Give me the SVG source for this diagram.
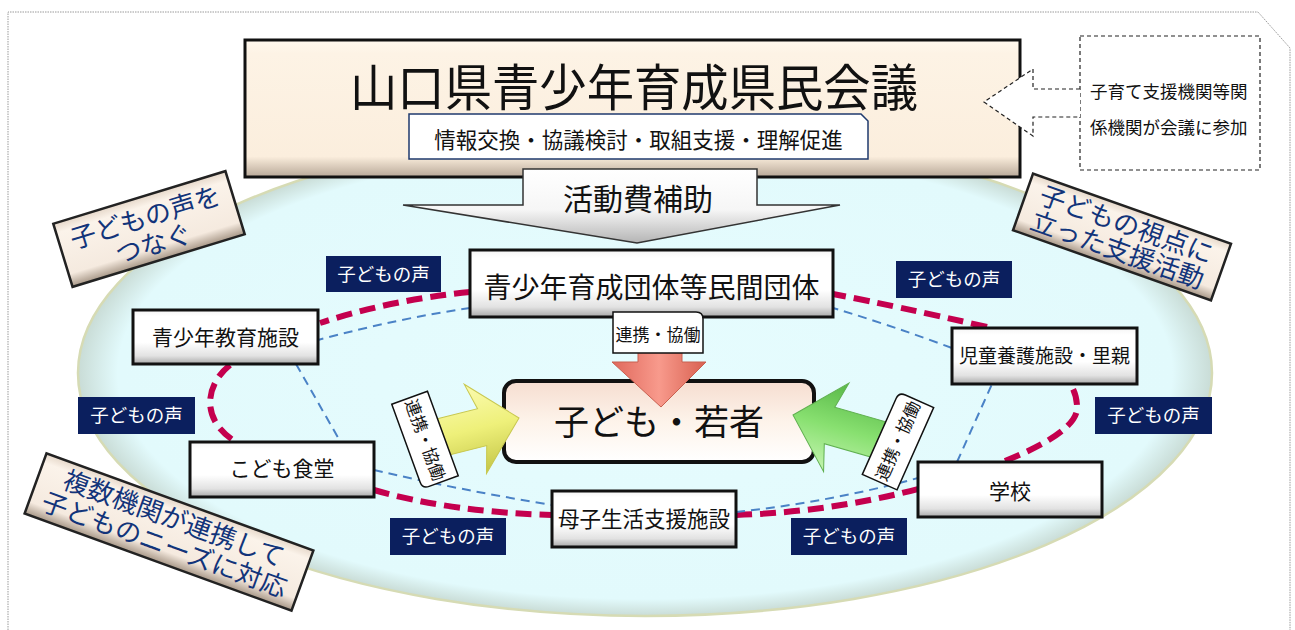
<svg xmlns="http://www.w3.org/2000/svg" width="1295" height="630" viewBox="0 0 1295 630">
<defs>
<radialGradient id="eg" cx="0.5" cy="0.5" r="0.5">
<stop offset="0" stop-color="#e6fcfe"/>
<stop offset="0.93" stop-color="#e2fafc"/>
<stop offset="1" stop-color="#c9dcd6"/>
</radialGradient>
<linearGradient id="ng" x1="0" y1="0" x2="0" y2="1">
<stop offset="0" stop-color="#f4f4f4"/>
<stop offset="0.12" stop-color="#ffffff"/>
<stop offset="0.6" stop-color="#ffffff"/>
<stop offset="0.85" stop-color="#e2e2e2"/>
<stop offset="1" stop-color="#a8a8a8"/>
</linearGradient>
<linearGradient id="tg" x1="0" y1="0" x2="0" y2="1">
<stop offset="0" stop-color="#fff8ee"/>
<stop offset="0.1" stop-color="#fdf3e5"/>
<stop offset="0.85" stop-color="#fbeedd"/>
<stop offset="1" stop-color="#b8a898"/>
</linearGradient>
<linearGradient id="cg" x1="0" y1="0" x2="0" y2="1">
<stop offset="0" stop-color="#e6d8ca"/>
<stop offset="0.15" stop-color="#fbf3ea"/>
<stop offset="0.8" stop-color="#f5eadf"/>
<stop offset="1" stop-color="#a89888"/>
</linearGradient>
<linearGradient id="yg" x1="0" y1="0" x2="0" y2="1">
<stop offset="0" stop-color="#fbfbb0"/>
<stop offset="0.5" stop-color="#eef07a"/>
<stop offset="1" stop-color="#c4c648"/>
</linearGradient>
<linearGradient id="gg" x1="0" y1="0" x2="0" y2="1">
<stop offset="0" stop-color="#c4f4b0"/>
<stop offset="0.5" stop-color="#88e070"/>
<stop offset="1" stop-color="#58b848"/>
</linearGradient>
<linearGradient id="rg" x1="0" y1="0" x2="1" y2="0">
<stop offset="0" stop-color="#e0685c"/>
<stop offset="0.5" stop-color="#f89a8c"/>
<stop offset="1" stop-color="#d86050"/>
</linearGradient>
<linearGradient id="cy" x1="0" y1="0" x2="0" y2="1">
<stop offset="0" stop-color="#f6ddd0"/>
<stop offset="0.5" stop-color="#fdf3ea"/>
<stop offset="1" stop-color="#ffffff"/>
</linearGradient>
<linearGradient id="ag" x1="0" y1="0" x2="0" y2="1">
<stop offset="0" stop-color="#ffffff"/>
<stop offset="0.55" stop-color="#f6f6f6"/>
<stop offset="1" stop-color="#b4b4b4"/>
</linearGradient>
</defs>
<style>
text{font-family:"Noto Sans CJK JP","Noto Sans CJK SC",sans-serif}
.c{text-anchor:middle}
.node rect{fill:url(#ng);stroke:#111;stroke-width:3}
.node text{fill:#111;text-anchor:middle}
.voice rect{fill:#0b1f5e}
.voice text{fill:#fff;font-size:18.5px;text-anchor:middle}
.red{fill:none;stroke:#c4004e;stroke-width:6;stroke-dasharray:16 8}
.blue{fill:none;stroke:#4a82c6;stroke-width:2;stroke-dasharray:9 6}
.callout rect{fill:url(#cg);stroke:#222;stroke-width:2.5}
.callout text{fill:#12347a;font-size:26px;text-anchor:middle}
.tag path{fill:#fff;stroke:#111;stroke-width:1.5}
.tag text{fill:#111;font-size:17px;text-anchor:middle}
</style>
<rect width="1295" height="630" fill="#fff"/>
<polyline points="8,630 8,12 1258,12 1290,48 1290,630" fill="none" stroke="#9a9a9a" stroke-width="1" stroke-dasharray="1.5 1"/>
<ellipse cx="645" cy="373" rx="567" ry="243" fill="url(#eg)" stroke="#d6dbb4" stroke-width="2.5"/>
<g id="connectors">
<path class="red" d="M470,292 Q390,300 320,323"/>
<path class="red" d="M230,365 C205,385 200,420 236,442"/>
<path class="red" d="M374,490 Q450,512 552,515"/>
<path class="red" d="M736,515 Q830,512 918,489"/>
<path class="red" d="M1005,461 C1045,445 1080,425 1077,405 Q1076,392 1070,384"/>
<path class="red" d="M987,327 Q896,306 833,294"/>
<path class="blue" d="M470,308 Q400,318 318,340"/>
<path class="blue" d="M296,364 L340,441"/>
<path class="blue" d="M374,470 Q460,490 552,505"/>
<path class="blue" d="M736,512 Q830,502 918,478"/>
<path class="blue" d="M957,462 L992,384"/>
<path class="blue" d="M952,348 Q890,325 833,308"/>
</g>
<g id="n-minkan" class="node"><rect x="470" y="250" width="363" height="67"/><text x="651.5" y="298" font-size="28">青少年育成団体等民間団体</text></g>
<g id="n-kyoiku" class="node"><rect x="133" y="310" width="185" height="54"/><text x="225.5" y="345" font-size="21">青少年教育施設</text></g>
<g id="n-shokudo" class="node"><rect x="190" y="442" width="184" height="55"/><text x="282" y="476" font-size="21">こども食堂</text></g>
<g id="n-jido" class="node"><rect x="952" y="328" width="185" height="56"/><text x="1044.5" y="363" font-size="19">児童養護施設・里親</text></g>
<g id="n-gakko" class="node"><rect x="918" y="462" width="184" height="55"/><text x="1010" y="499" font-size="21">学校</text></g>
<g id="n-boshi" class="node"><rect x="552" y="491" width="184" height="56"/><text x="644" y="527" font-size="21.5">母子生活支援施設</text></g>
<g id="n-kodomo"><rect x="504" y="381" width="310" height="81" rx="12" fill="url(#cy)" stroke="#111" stroke-width="4"/><text class="c" x="659" y="435" font-size="35" fill="#111">子ども・若者</text></g>
<g id="arrows">
<path d="M638,340 H682 V362 H706 L661,407 L612,362 H638 Z" fill="url(#rg)" stroke="#c86050" stroke-width="1"/>
<g transform="translate(519,418) rotate(-14)"><path d="M0,0 L-45,46 L-38,19 H-110 V-19 H-38 L-45,-46 Z" fill="url(#yg)" stroke="#c8c850" stroke-width="1"/></g>
<g transform="translate(793,415) rotate(196)"><path d="M0,0 L-45,46 L-38,19 H-110 V-19 H-38 L-45,-46 Z" fill="url(#gg)" stroke="#60b050" stroke-width="1"/></g>
</g>
<g id="tag-top" class="tag"><path d="M613,312 H696 Q703,312 703,319 V353 H613 Z"/><text x="658" y="341">連携・協働</text></g>
<g id="tag-left" class="tag" transform="translate(425,440) rotate(70)"><path d="M-45,-19 H45 V12 Q45,19 38,19 H-45 Z"/><text x="0" y="6">連携・協働</text></g>
<g id="tag-right" class="tag" transform="translate(898,441) rotate(-66)"><path d="M-45,-19 H38 Q45,-19 45,-12 V19 H-45 Z"/><text x="0" y="6">連携・協働</text></g>
<g id="v1" class="voice"><rect x="326" y="256" width="115" height="36"/><text x="383.5" y="281">子どもの声</text></g>
<g id="v2" class="voice"><rect x="896" y="261" width="116" height="37"/><text x="954" y="286">子どもの声</text></g>
<g id="v3" class="voice"><rect x="78" y="397" width="117" height="37"/><text x="136.5" y="422">子どもの声</text></g>
<g id="v4" class="voice"><rect x="1095" y="397" width="117" height="37"/><text x="1153.5" y="422">子どもの声</text></g>
<g id="v5" class="voice"><rect x="390" y="518" width="116" height="37"/><text x="448" y="543">子どもの声</text></g>
<g id="v6" class="voice"><rect x="791" y="518" width="116" height="37"/><text x="849" y="543">子どもの声</text></g>
<g id="callout1" class="callout" transform="translate(149,229) rotate(-17)"><rect x="-90" y="-33" width="180" height="66"/><text x="0" y="-3">子どもの声を</text><text x="0" y="25">つなぐ</text></g>
<g id="callout2" class="callout" transform="translate(1122,237) rotate(19.5)"><rect x="-105" y="-30" width="210" height="60"/><text x="0" y="-4" font-size="25">子どもの視点に</text><text x="0" y="23" font-size="25">立った支援活動</text></g>
<g id="callout3" class="callout" transform="translate(169,532) rotate(20)"><rect x="-142" y="-32" width="284" height="64"/><text x="0" y="-5">複数機関が連携して</text><text x="0" y="23">子どものニーズに対応</text></g>
<g id="n-kaigi">
<rect x="245" y="40" width="775" height="137" fill="url(#tg)" stroke="#111" stroke-width="3"/>
<text class="c" x="634" y="106" font-size="50" fill="#111" textLength="568" lengthAdjust="spacingAndGlyphs">山口県青少年育成県民会議</text>
<path d="M409,114 H861 L868,121 V159 H409 Z" fill="#fff" stroke="#1f3a6e" stroke-width="1.5"/>
<text class="c" x="638.5" y="148" font-size="21.5" fill="#111">情報交換・協議検討・取組支援・理解促進</text>
</g>
<g id="hojo">
<path d="M523,169 H757 V205 H840 L637,243 L403,205 H523 Z" fill="url(#ag)" stroke="#333" stroke-width="1.5"/>
<text class="c" x="638" y="210" font-size="30" fill="#111">活動費補助</text>
</g>
<g id="sanka">
<rect x="1080" y="36" width="180" height="134" fill="#fff" stroke="#222" stroke-width="1.2" stroke-dasharray="4 3"/>
<path d="M1080,89 H1033 V69 L984,102 L1033,136 V117 H1080" fill="#fff" stroke="#222" stroke-width="1.2" stroke-dasharray="4 3"/>
<text x="1090" y="98" font-size="17.5" fill="#111">子育て支援機関等関</text>
<text x="1090" y="134" font-size="17.5" fill="#111">係機関が会議に参加</text>
</g>
</svg>
